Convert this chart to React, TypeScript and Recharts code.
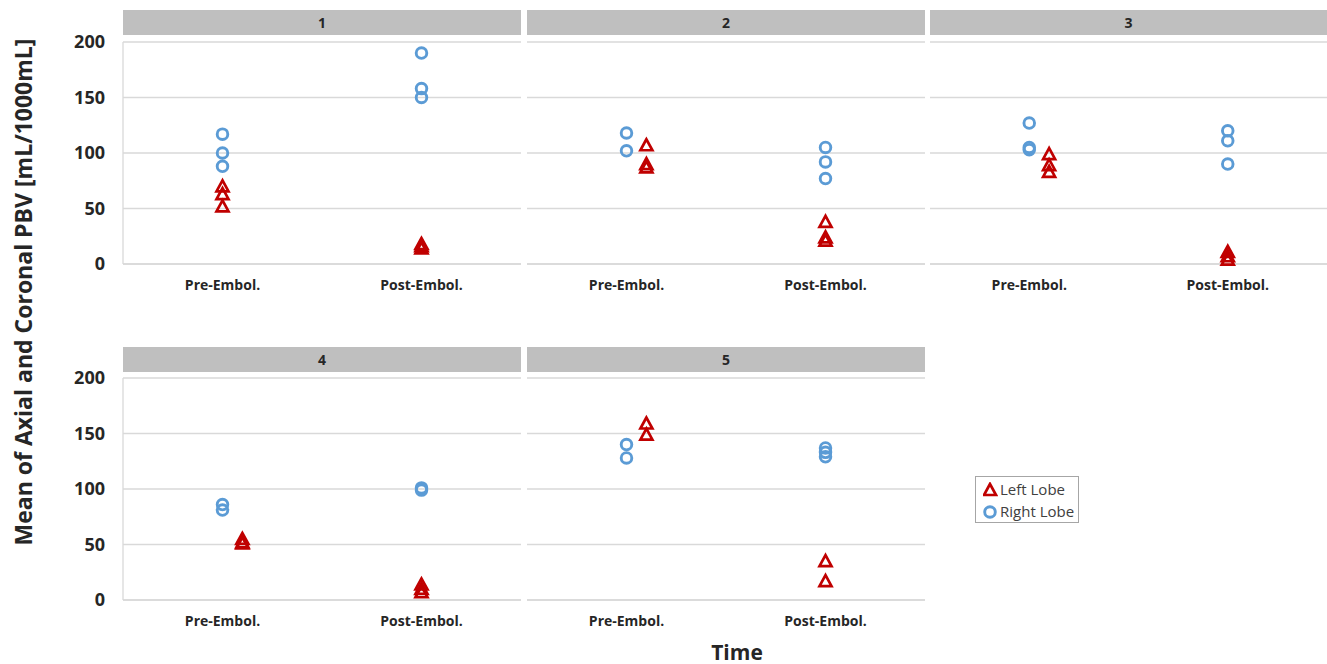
import React from 'react';
import { ScatterChart, Scatter, XAxis, YAxis, CartesianGrid } from 'recharts';

// facet ids and time points
const panelIds = ['1', '2', '3', '4', '5'];
const timeLabels = ['Pre-Embol.', 'Post-Embol.'];
const yTicks = [0, 50, 100, 150, 200];

// Left lobe PBV per panel
const leftPre = [[70, 63, 52], [107, 90, 87], [99, 89, 83], [55, 52, 51], [159, 149]];
const leftPost = [[18, 16, 14], [38, 24, 21], [11, 7, 4], [14, 10, 7], [35, 17]];
// Right lobe PBV per panel
const rightPre = [[117, 100, 88], [118, 102], [127, 105, 103], [86, 81], [140, 128]];
const rightPost = [[190, 158, 150], [105, 92, 77], [120, 111, 90], [101, 99], [137, 133, 129]];
// small horizontal dodge of the left-lobe pre points (data units)
const leftPreDodge = [0, 0.1, 0.1, 0.1, 0.1];

const RED = '#C00000';
const BLUE = '#5B9BD5';
const GRID = '#D9D9D9';
const FONT = '"Open Sans", "DejaVu Sans", sans-serif';

const colX = [123, 527, 930];
const colW = [398, 398, 397];
const rowTop = [42, 378];
const stripTop = [10, 347];
const plotH = 222;
const TOP = 14;

const Tri = (props: any) => {
  const { cx, cy } = props;
  if (cx == null || cy == null) return null;
  return (
    <polygon
      points={`${cx},${cy - 6} ${cx - 6},${cy + 5} ${cx + 6},${cy + 5}`}
      fill="none"
      stroke={RED}
      strokeWidth={2.7}
    />
  );
};

const Circ = (props: any) => {
  const { cx, cy } = props;
  if (cx == null || cy == null) return null;
  return <circle cx={cx} cy={cy} r={5.3} fill="none" stroke={BLUE} strokeWidth={2.9} />;
};

const Panel = ({ i }: { i: number }) => {
  const col = i % 3;
  const row = Math.floor(i / 3);
  const showY = col === 0;
  const yW = showY ? 60 : 0;
  const w = colW[col];
  const left = leftPre[i].map((y) => ({ x: 0.5 + leftPreDodge[i], y }))
    .concat(leftPost[i].map((y) => ({ x: 1.5, y })));
  const right = rightPre[i].map((y) => ({ x: 0.5, y }))
    .concat(rightPost[i].map((y) => ({ x: 1.5, y })));
  return (
    <>
      <div
        style={{
          position: 'absolute',
          left: colX[col],
          top: stripTop[row],
          width: w,
          height: 25,
          background: '#BFBFBF',
          color: '#262626',
          fontFamily: FONT,
          fontWeight: 700,
          fontSize: 14,
          lineHeight: '25px',
          textAlign: 'center',
        }}
      >
        {panelIds[i]}
      </div>
      <div style={{ position: 'absolute', left: colX[col] - yW, top: rowTop[row] - TOP }}>
        <ScatterChart
          width={w + yW}
          height={plotH + TOP + 40}
          margin={{ top: TOP, right: 0, bottom: 0, left: 0 }}
        >
          <CartesianGrid vertical={false} stroke={GRID} strokeWidth={1.3} />
          <XAxis
            type="number"
            dataKey="x"
            domain={[0, 2]}
            ticks={[0.5, 1.5]}
            tickFormatter={(v: number) => (v < 1 ? timeLabels[0] : timeLabels[1])}
            axisLine={{ stroke: GRID, strokeWidth: 1.3 }}
            tickLine={false}
            tickMargin={10}
            height={40}
            tick={{ fontSize: 14, fontWeight: 700, fill: '#262626', fontFamily: FONT }}
          />
          <YAxis
            type="number"
            dataKey="y"
            domain={[0, 200]}
            ticks={yTicks}
            hide={!showY}
            width={yW}
            axisLine={{ stroke: GRID, strokeWidth: 1.3 }}
            tickLine={false}
            tickMargin={12}
            tick={{ fontSize: 18, fontWeight: 700, fill: '#262626', fontFamily: FONT }}
          />
          <Scatter data={left} shape={Tri} isAnimationActive={false} />
          <Scatter data={right} shape={Circ} isAnimationActive={false} />
        </ScatterChart>
      </div>
    </>
  );
};

export default function App() {
  return (
    <div
      style={{
        position: 'absolute',
        left: 0,
        top: 0,
        width: 1327,
        height: 664,
        background: '#fff',
        overflow: 'hidden',
      }}
    >
      {panelIds.map((_, i) => (
        <Panel key={i} i={i} />
      ))}
      <div
        style={{
          position: 'absolute',
          left: 23,
          top: 292,
          transform: 'translate(-50%, -50%) rotate(-90deg)',
          whiteSpace: 'nowrap',
          fontFamily: FONT,
          fontWeight: 700,
          fontSize: 23,
          lineHeight: 1,
          color: '#262626',
        }}
      >
        Mean of Axial and Coronal PBV [mL/1000mL]
      </div>
      <div
        style={{
          position: 'absolute',
          left: 737,
          top: 652,
          transform: 'translate(-50%, -50%)',
          fontFamily: FONT,
          fontWeight: 700,
          fontSize: 21,
          lineHeight: 1,
          color: '#262626',
        }}
      >
        Time
      </div>
      <div
        style={{
          position: 'absolute',
          left: 975,
          top: 476,
          width: 104,
          height: 47,
          border: '1px solid #A6A6A6',
          boxSizing: 'border-box',
          fontFamily: FONT,
          fontSize: 15,
          color: '#404040',
          padding: '1px 0 0 7px',
        }}
      >
        {[
          { name: 'Left Lobe', Icon: Tri },
          { name: 'Right Lobe', Icon: Circ },
        ].map(({ name, Icon }) => (
          <div key={name} style={{ display: 'flex', alignItems: 'center', height: 22 }}>
            <svg width={15} height={15} style={{ marginRight: 2 }}>
              <Icon cx={7} cy={8} />
            </svg>
            {name}
          </div>
        ))}
      </div>
    </div>
  );
}
